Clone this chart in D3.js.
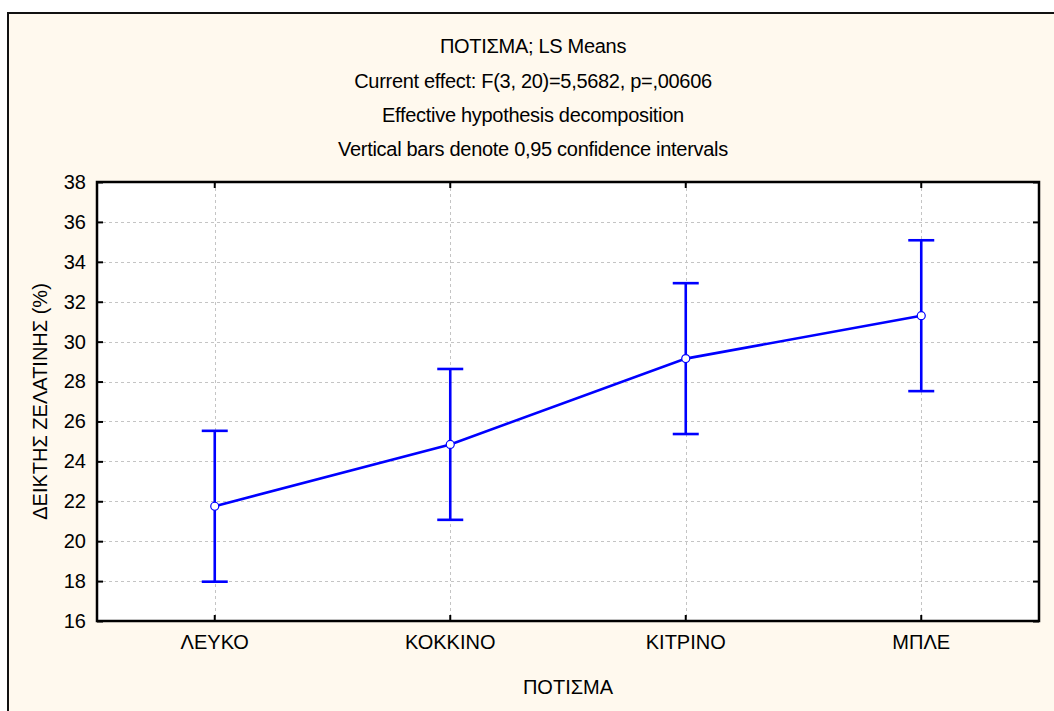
<!DOCTYPE html>
<html>
<head>
<meta charset="utf-8">
<script src="https://cdn.jsdelivr.net/npm/d3@7"></script>
<style>
  html, body { margin: 0; padding: 0; background: #ffffff; }
  svg { display: block; }
  text { font-family: Arial, "Liberation Sans", sans-serif; fill: #000; }
</style>
</head>
<body>
<svg id="chart" width="1054" height="711"></svg>
<script>
// ---- data ----
const categories = ["ΛΕΥΚΟ", "ΚΟΚΚΙΝΟ", "ΚΙΤΡΙΝΟ", "ΜΠΛΕ"];
const means = [21.75, 24.85, 29.15, 31.3];
const lower = [17.97, 21.07, 25.37, 27.52];
const upper = [25.53, 28.63, 32.93, 35.08];
const yTicks = [16, 18, 20, 22, 24, 26, 28, 30, 32, 34, 36, 38];
const titleLines = [
  "ΠΟΤΙΣΜΑ; LS Means",
  "Current effect: F(3, 20)=5,5682, p=,00606",
  "Effective hypothesis decomposition",
  "Vertical bars denote 0,95 confidence intervals"
];
const xTitle = "ΠΟΤΙΣΜΑ";
const yTitle = "ΔΕΙΚΤΗΣ ΖΕΛΑΤΙΝΗΣ (%)";

// ---- layout ----
const svg = d3.select("#chart");
const plot = { left: 97, top: 182, right: 1039, bottom: 621 };
const blue = "#0000ff";
const fontSize = 20;

// outer frame
svg.append("rect")
  .attr("x", 8).attr("y", 13).attr("width", 1070).attr("height", 720)
  .attr("fill", "#fff9ee").attr("stroke", "#111").attr("stroke-width", 2);

// plot area
svg.append("rect")
  .attr("x", plot.left).attr("y", plot.top)
  .attr("width", plot.right - plot.left).attr("height", plot.bottom - plot.top)
  .attr("fill", "#ffffff");

const x = d3.scaleBand().domain(categories).range([plot.left, plot.right]).padding(0);
const y = d3.scaleLinear().domain([16, 38]).range([plot.bottom, plot.top]);
const cx = c => x(c) + x.bandwidth() / 2;

// gridlines
const grid = svg.append("g").attr("stroke", "#c4c4c4").attr("stroke-width", 1)
  .attr("stroke-dasharray", "3,3");
grid.selectAll("line.h").data(yTicks.slice(1, -1)).join("line")
  .attr("x1", plot.left).attr("x2", plot.right)
  .attr("y1", d => Math.round(y(d)) + 0.5).attr("y2", d => Math.round(y(d)) + 0.5);
grid.selectAll("line.v").data(categories).join("line")
  .attr("y1", plot.top).attr("y2", plot.bottom)
  .attr("x1", d => Math.round(cx(d)) + 0.5).attr("x2", d => Math.round(cx(d)) + 0.5);

// axes (ticks inside)
const tickLen = 6;
const axL = d3.axisLeft(y).tickValues(yTicks).tickSize(-tickLen).tickPadding(11);
const axR = d3.axisRight(y).tickValues(yTicks).tickSize(-tickLen).tickFormat("");
const axB = d3.axisBottom(x).tickSize(-tickLen).tickPadding(14);
const axT = d3.axisTop(x).tickSize(-tickLen).tickFormat("");

function styleAxis(g) {
  g.select(".domain").remove();
  g.selectAll(".tick line").attr("stroke", "#000").attr("stroke-width", 2);
  g.selectAll(".tick text").attr("font-size", fontSize)
    .attr("font-family", "Arial, 'Liberation Sans', sans-serif").attr("fill", "#000");
}
svg.append("g").attr("transform", `translate(${plot.left},0)`).call(axL).call(styleAxis);
svg.append("g").attr("transform", `translate(${plot.right},0)`).call(axR).call(styleAxis);
svg.append("g").attr("transform", `translate(0,${plot.bottom})`).call(axB).call(styleAxis);
svg.append("g").attr("transform", `translate(0,${plot.top})`).call(axT).call(styleAxis);

// plot border
svg.append("rect")
  .attr("x", plot.left).attr("y", plot.top)
  .attr("width", plot.right - plot.left).attr("height", plot.bottom - plot.top)
  .attr("fill", "none").attr("stroke", "#000").attr("stroke-width", 2.5);

// error bars
const rows = categories.map((c, i) => ({ c, m: means[i], lo: lower[i], hi: upper[i] }));
const eb = svg.append("g").attr("stroke", blue).attr("stroke-width", 2.6);
eb.selectAll("line.bar").data(rows).join("line")
  .attr("x1", d => cx(d.c)).attr("x2", d => cx(d.c))
  .attr("y1", d => y(d.lo)).attr("y2", d => y(d.hi));
const capW = 13;
eb.selectAll("line.capHi").data(rows).join("line")
  .attr("x1", d => cx(d.c) - capW).attr("x2", d => cx(d.c) + capW)
  .attr("y1", d => y(d.hi)).attr("y2", d => y(d.hi));
eb.selectAll("line.capLo").data(rows).join("line")
  .attr("x1", d => cx(d.c) - capW).attr("x2", d => cx(d.c) + capW)
  .attr("y1", d => y(d.lo)).attr("y2", d => y(d.lo));

// mean line
svg.append("path").datum(rows)
  .attr("d", d3.line().x(d => cx(d.c)).y(d => y(d.m)))
  .attr("fill", "none").attr("stroke", blue).attr("stroke-width", 2.6);

// markers
svg.append("g").selectAll("circle").data(rows).join("circle")
  .attr("cx", d => cx(d.c)).attr("cy", d => y(d.m)).attr("r", 4)
  .attr("fill", "#fff").attr("stroke", blue).attr("stroke-width", 1.2);

// titles
const titleBaselines = [53, 88, 122, 156];
svg.append("g").selectAll("text").data(titleLines).join("text")
  .attr("x", 533).attr("y", (d, i) => titleBaselines[i])
  .attr("text-anchor", "middle").attr("font-size", fontSize).attr("letter-spacing", -0.3)
  .text(d => d);

svg.append("text").attr("x", (plot.left + plot.right) / 2).attr("y", 694)
  .attr("text-anchor", "middle").attr("font-size", fontSize).text(xTitle);

svg.append("text")
  .attr("transform", `translate(47,${(plot.top + plot.bottom) / 2}) rotate(-90)`)
  .attr("text-anchor", "middle").attr("font-size", fontSize).text(yTitle);
</script>
</body>
</html>
